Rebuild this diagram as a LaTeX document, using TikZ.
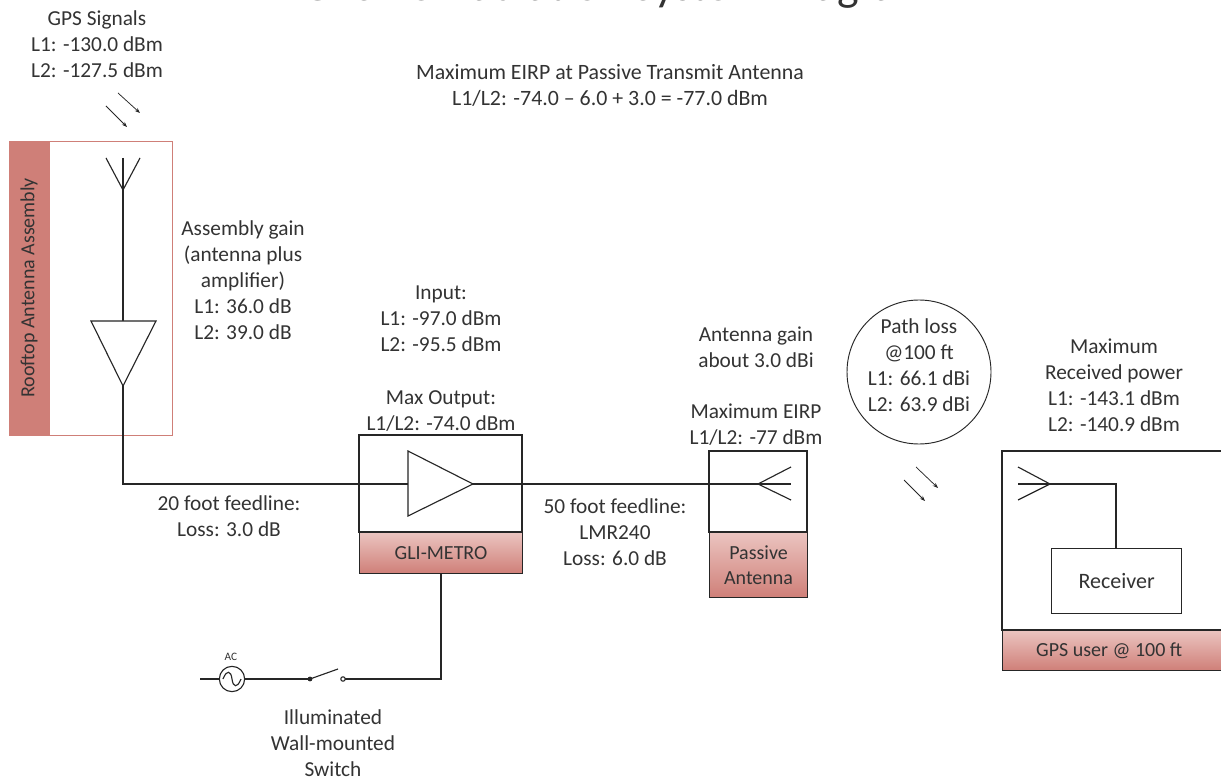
\documentclass[tikz,border=0pt]{standalone}
\usepackage{fontspec}
\setmainfont{Carlito}
\usetikzlibrary{arrows.meta}
\definecolor{txt}{HTML}{333333}
\definecolor{redtop}{HTML}{EBC4C0}
\definecolor{redbot}{HTML}{CF7F78}
\definecolor{frame}{HTML}{262626}
\tikzset{
  lbl/.style={align=center,font=\fontsize{16}{19.5}\selectfont,text=txt,inner sep=0pt},
  wire/.style={draw=frame,line width=.85pt},
  boxf/.style={draw=frame,line width=.85pt,fill=white},
  band/.style={draw=frame,line width=.85pt,top color=redtop,bottom color=redbot,text=txt,align=center,inner sep=0pt,font=\fontsize{15}{19}\selectfont},
  sig/.style={draw=frame,line width=.55pt,-{Stealth[length=4pt,width=3pt]}}
}
\begin{document}
\begin{tikzpicture}[x=0.75pt,y=-0.75pt]
\useasboundingbox (0,0) rectangle (1221,780);
\clip (0,0) rectangle (1221,780);
\fill[white] (0,0) rectangle (1221,780);
\node[text=txt,font=\fontsize{34.4}{36}\selectfont,anchor=base,inner sep=0pt] (title) at (617,0.5) {GPS Re-Radiation System Diagram};
% rooftop
\draw[draw=redbot,line width=.6pt,fill=white] (9,141) rectangle (172,435);
\fill[redbot] (9,141) rectangle (50,435);
\node[rotate=90,text=txt,font=\fontsize{15}{17}\selectfont,inner sep=0pt] (assylbl) at (29,288) {Rooftop Antenna Assembly};
\coordinate (a1) at (123,190);
\draw[wire] (123,158) -- (a1);
\draw[wire] (106,158) -- (a1) -- (140,158);
\draw[wire] (a1) -- (123,321);
\draw[boxf] (91,321) -- (156,321) -- (123,386) -- cycle;
\draw[wire] (123,386) -- (123,484) -- (408,484);
% GLI
\draw[boxf] (359,435) rectangle (522,532);
\node[band,minimum width=122.25pt,minimum height=30.75pt,anchor=north west] (gli) at (359,532) {GLI-METRO};
\draw[wire] (359,484) -- (408,484);
\draw[boxf] (408,451) -- (473,484) -- (408,516) -- cycle;
% passive
\draw[boxf] (709,451) rectangle (807,532);
\node[band,minimum width=73.5pt,minimum height=49pt,anchor=north west] (pas) at (709,532) {Passive\\Antenna};
\draw[wire] (473,484) -- (791,484);
\draw[wire] (791,467) -- (758,484) -- (791,500);
% receiver
\draw[boxf] (1002,451) -- (1226,451) -- (1226,630) -- (1002,630) -- cycle;
\node[band,minimum width=172pt,minimum height=30pt,anchor=north west] (gpsu) at (1002,630) {\hspace{-6pt}GPS user @ 100 ft\hspace{6pt}};
\node[draw=frame,line width=.85pt,fill=white,minimum width=97.5pt,minimum height=48.75pt,inner sep=0pt,text=txt,font=\fontsize{16.5}{19}\selectfont,anchor=north west] (rx) at (1051,548) {Receiver};
\coordinate (ra) at (1050,484);
\draw[wire] (1018,467) -- (ra) -- (1018,500);
\draw[wire] (1018,484) -- (ra) -- (1116,484) -- (1116,548);
% signals
\draw[sig] (106,106) -- (127,127);
\draw[sig] (118,93) -- (140,113);
\draw[sig] (904,480) -- (925,501);
\draw[sig] (916,467) -- (938,488);
% path loss
\node[draw=frame,line width=.7pt,circle,minimum size=108pt,inner sep=0pt] (pl) at (919,372) {};
\node[lbl] (pll) at (919,365) {Path loss\\@100 ft\\L1: 66.1 dBi\\L2: 63.9 dBi};
% power
\draw[wire] (441,573) -- (441,679) -- (345,679);
\node[draw=frame,line width=.85pt,circle,minimum size=19pt,inner sep=0pt] (ac) at (232,679) {};
\coordinate (acw) at (200,679);
\coordinate (sw1) at (310,679);
\draw[wire] (acw) -- (ac) -- (sw1);
\draw[wire] (223,679) .. controls (227,669) and (231,671) .. (232,679) .. controls (233,687) and (237,689) .. (241,679);
\node[text=txt,font=\fontsize{8.5}{10}\selectfont,inner sep=0pt] (aclbl) at (231,657) {AC};
\fill[frame] (sw1) circle (2.4);
\draw[frame,line width=.8pt,fill=white] (343,679) circle (2.2);
\draw[wire] (sw1) -- (338,669);
% labels
\node[lbl] (l1) at (97,44) {GPS Signals\\L1: -130.0 dBm\\L2: -127.5 dBm};
\node[lbl,font=\fontsize{16.4}{19.5}\selectfont] (l2) at (610,85) {Maximum EIRP at Passive Transmit Antenna\\L1/L2: -74.0 – 6.0 + 3.0 = -77.0 dBm};
\node[lbl] (l3) at (243,280) {Assembly gain\\(antenna plus\\amplifier)\\L1: 36.0 dB\\L2: 39.0 dB};
\node[lbl] (l4) at (441,319) {Input:\\L1: -97.0 dBm\\L2: -95.5 dBm};
\node[lbl] (l5) at (441,411) {Max Output:\\L1/L2: -74.0 dBm};
\node[lbl] (l6) at (756,347) {Antenna gain\\about 3.0 dBi};
\node[lbl] (l7) at (756,425) {Maximum EIRP\\L1/L2: -77 dBm};
\node[lbl] (l8) at (1114,385) {Maximum\\Received power\\L1: -143.1 dBm\\L2: -140.9 dBm};
\node[lbl] (l9) at (229,516) {20 foot feedline:\\Loss: 3.0 dB};
\node[lbl] (l10) at (615,532) {50 foot feedline:\\LMR240\\Loss: 6.0 dB};
\node[lbl] (l11) at (333,743) {Illuminated\\Wall-mounted\\Switch};
\end{tikzpicture}
\end{document}
